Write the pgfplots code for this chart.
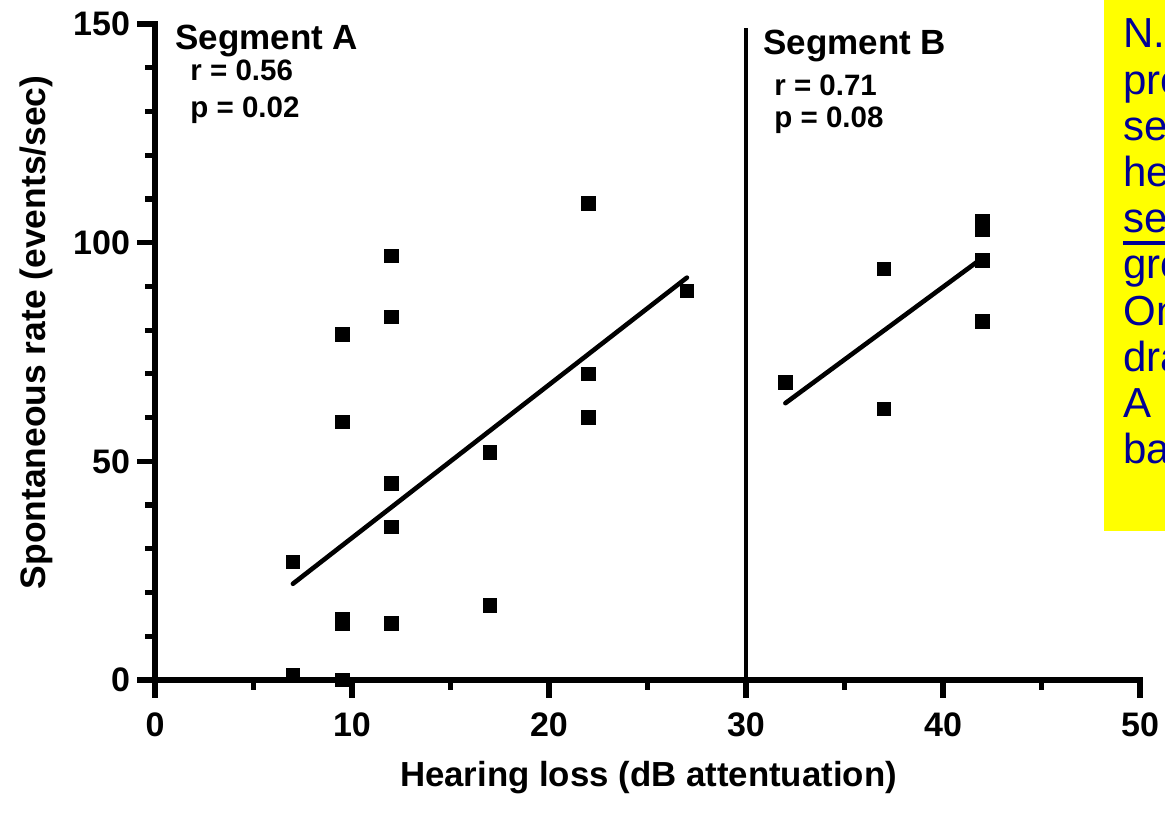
\documentclass[border=0pt]{standalone}
\usepackage{fontspec}
\setmainfont{Liberation Sans}
\usepackage{pgfplots}
\pgfplotsset{compat=1.18}
\definecolor{nbblue}{RGB}{0,0,150}
\definecolor{nbyellow}{RGB}{255,255,0}
\begin{document}
\begin{tikzpicture}
\path[use as bounding box] (0pt,0pt) rectangle (582.5pt,408.5pt);
\clip (0pt,0pt) rectangle (582.5pt,408.5pt);
% note box (cut at the right edge as in the reference)
\fill[nbyellow] (552pt,143pt) rectangle (640pt,420pt);
\begin{scope}[every node/.style={anchor=base west, inner sep=0pt, text=nbblue, font=\fontsize{21}{21}\selectfont}]
\node at (561.5pt,384.5pt) {N.B. These};
\node at (561.5pt,361.4pt) {predictions};
\node at (561.5pt,338.3pt) {separate};
\node at (561.5pt,315.2pt) {hearing};
\node at (561.5pt,292.1pt) {segments};
\node at (561.5pt,269.0pt) {grouped};
\node at (561.5pt,245.9pt) {Only};
\node at (561.5pt,222.8pt) {drawn};
\node at (561.5pt,199.7pt) {A \ \ is};
\node at (561.5pt,176.6pt) {based};
\end{scope}
\draw[nbblue, line width=2pt] (561.5pt,287pt) -- (640pt,287pt);
\begin{axis}[
  at={(77.5pt,68.5pt)}, anchor=south west,
  scale only axis, width=492.5pt, height=328pt,
  xmin=0, xmax=50, ymin=0, ymax=150,
  clip=false,
  axis x line*=bottom, axis y line*=left,
  axis line style={-, line width=2.8pt, line cap=rect},
  xtick={0,10,20,30,40,50},
  minor xtick={5,15,25,35,45},
  ytick={0,50,100,150},
  minor ytick={10,20,30,40,60,70,80,90,110,120,130,140},
  tick align=outside,
  major tick length=9pt, minor tick length=5pt,
  every tick/.style={black, line width=2.6pt},
  /pgf/number format/assume math mode=true,
  tick label style={font=\fontsize{17}{17}\selectfont\bfseries},
  xticklabel style={yshift=-4pt},
  xlabel={Hearing loss (dB attentuation)},
  ylabel={Spontaneous rate (events/sec)},
  xlabel style={font=\fontsize{17.4}{17.4}\selectfont\bfseries, at={(axis description cs:0.501,-0.1616)}, anchor=base},
  ylabel style={font=\fontsize{17.7}{17.7}\selectfont\bfseries, at={(axis description cs:-0.1107,0.530)}, anchor=base},
]
% Segment A data
\addplot[only marks, mark=square*, mark size=3.4pt, black] coordinates {
(7,27) (7,1) (9.5,79) (9.5,59) (9.5,14) (9.5,13) (9.5,0)
(12,97) (12,83) (12,45) (12,35) (12,13)
(17,52) (17,17) (22,109) (22,70) (22,60) (27,89)
};
% Segment A regression
\addplot[black, line width=2.3pt, line cap=round, no marks] coordinates {(7,22) (27,92)};
% Segment B data
\addplot[only marks, mark=square*, mark size=3.4pt, black] coordinates {
(32,68) (37,94) (37,62) (42,105) (42,103) (42,96) (42,82)
};
% Segment B regression
\addplot[black, line width=2.3pt, line cap=round, no marks] coordinates {(32,63.3) (42,96.5)};
% divider
\addplot[black, line width=2pt, no marks] coordinates {(30,0) (30,149)};
\node[anchor=base west, inner sep=0pt, font=\fontsize{17.5}{17.5}\selectfont\bfseries] at (axis cs:1.02,144.1) {Segment A};
\node[anchor=base west, inner sep=0pt, font=\fontsize{14.75}{14.75}\selectfont\bfseries] at (axis cs:1.78,137.0) {r = 0.56};
\node[anchor=base west, inner sep=0pt, font=\fontsize{14.75}{14.75}\selectfont\bfseries] at (axis cs:1.78,128.6) {p = 0.02};
\node[anchor=base west, inner sep=0pt, font=\fontsize{17.5}{17.5}\selectfont\bfseries] at (axis cs:30.86,143.1) {Segment B};
\node[anchor=base west, inner sep=0pt, font=\fontsize{14.75}{14.75}\selectfont\bfseries] at (axis cs:31.42,133.7) {r = 0.71};
\node[anchor=base west, inner sep=0pt, font=\fontsize{14.75}{14.75}\selectfont\bfseries] at (axis cs:31.42,126.3) {p = 0.08};
\end{axis}
\end{tikzpicture}
\end{document}
